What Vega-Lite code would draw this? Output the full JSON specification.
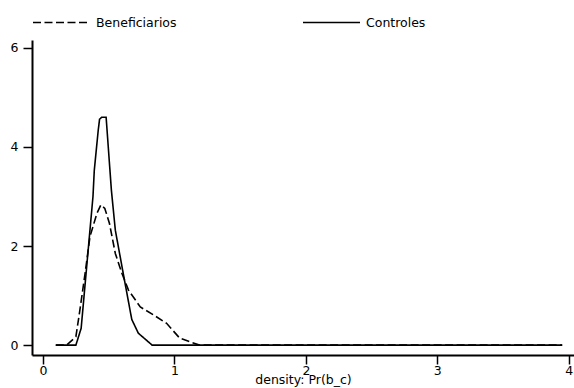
{
  "$schema": "https://vega.github.io/schema/vega-lite/v6.json",
  "autosize": "none",
  "width": 542,
  "height": 315,
  "padding": {"left": 32, "top": 40, "right": 0, "bottom": 33},
  "background": "white",
  "config": {
    "font": "DejaVu Sans",
    "view": {"stroke": null},
    "axis": {"grid": false, "domainColor": "black", "domainWidth": 2, "tickColor": "black", "tickWidth": 1.5, "tickSize": 9, "labelColor": "black", "labelFontSize": 12.5, "labelFont": "DejaVu Sans", "titleFont": "DejaVu Sans", "titleFontWeight": "normal", "titleFontSize": 12.5, "titleColor": "black"}
  },
  "data": {
    "values": [
      {"x": 0.097, "y": 0, "g": "Controles"},
      {"x": 0.25, "y": 0, "g": "Controles"},
      {"x": 0.29, "y": 0.34, "g": "Controles"},
      {"x": 0.38, "y": 3.0, "g": "Controles"},
      {"x": 0.39, "y": 3.53, "g": "Controles"},
      {"x": 0.42, "y": 4.34, "g": "Controles"},
      {"x": 0.43, "y": 4.56, "g": "Controles"},
      {"x": 0.446, "y": 4.6, "g": "Controles"},
      {"x": 0.48, "y": 4.6, "g": "Controles"},
      {"x": 0.52, "y": 3.13, "g": "Controles"},
      {"x": 0.55, "y": 2.32, "g": "Controles"},
      {"x": 0.61, "y": 1.45, "g": "Controles"},
      {"x": 0.675, "y": 0.52, "g": "Controles"},
      {"x": 0.725, "y": 0.24, "g": "Controles"},
      {"x": 0.83, "y": 0, "g": "Controles"},
      {"x": 2.0, "y": 0, "g": "Controles"},
      {"x": 3.95, "y": 0, "g": "Controles"},
      {"x": 0.097, "y": 0, "g": "Beneficiarios"},
      {"x": 0.18, "y": 0, "g": "Beneficiarios"},
      {"x": 0.25, "y": 0.17, "g": "Beneficiarios"},
      {"x": 0.28, "y": 0.7, "g": "Beneficiarios"},
      {"x": 0.32, "y": 1.45, "g": "Beneficiarios"},
      {"x": 0.357, "y": 2.19, "g": "Beneficiarios"},
      {"x": 0.41, "y": 2.66, "g": "Beneficiarios"},
      {"x": 0.44, "y": 2.83, "g": "Beneficiarios"},
      {"x": 0.47, "y": 2.76, "g": "Beneficiarios"},
      {"x": 0.505, "y": 2.46, "g": "Beneficiarios"},
      {"x": 0.55, "y": 1.85, "g": "Beneficiarios"},
      {"x": 0.6, "y": 1.45, "g": "Beneficiarios"},
      {"x": 0.65, "y": 1.11, "g": "Beneficiarios"},
      {"x": 0.74, "y": 0.77, "g": "Beneficiarios"},
      {"x": 0.84, "y": 0.61, "g": "Beneficiarios"},
      {"x": 0.94, "y": 0.44, "g": "Beneficiarios"},
      {"x": 1.04, "y": 0.14, "g": "Beneficiarios"},
      {"x": 1.19, "y": 0, "g": "Beneficiarios"},
      {"x": 2.0, "y": 0, "g": "Beneficiarios"},
      {"x": 3.95, "y": 0, "g": "Beneficiarios"}
    ]
  },
  "mark": {"type": "line", "color": "black", "strokeWidth": 1.6},
  "encoding": {
    "x": {"field": "x", "type": "quantitative", "scale": {"domain": [-0.084, 4.04], "nice": false, "zero": false}, "axis": {"values": [0, 1, 2, 3, 4], "title": "density: Pr(b_c)", "labelPadding": 0, "titlePadding": -3}},
    "y": {"field": "y", "type": "quantitative", "scale": {"domain": [-0.2, 6.16], "nice": false, "zero": false}, "axis": {"values": [0, 2, 4, 6], "title": null, "labelPadding": 5}},
    "strokeDash": {"field": "g", "type": "nominal", "scale": {"domain": ["Beneficiarios", "Controles"], "range": [[8, 3.5], [1, 0]]},
      "legend": {"title": null, "orient": "none", "legendX": 0, "legendY": -47, "direction": "horizontal", "columns": 2, "columnPadding": 122, "symbolType": "stroke", "symbolSize": 3249, "symbolStrokeWidth": 1.6, "symbolStrokeColor": "black", "labelFontSize": 12.5, "labelColor": "black", "labelFont": "DejaVu Sans", "labelOffset": 5}}
  }
}
